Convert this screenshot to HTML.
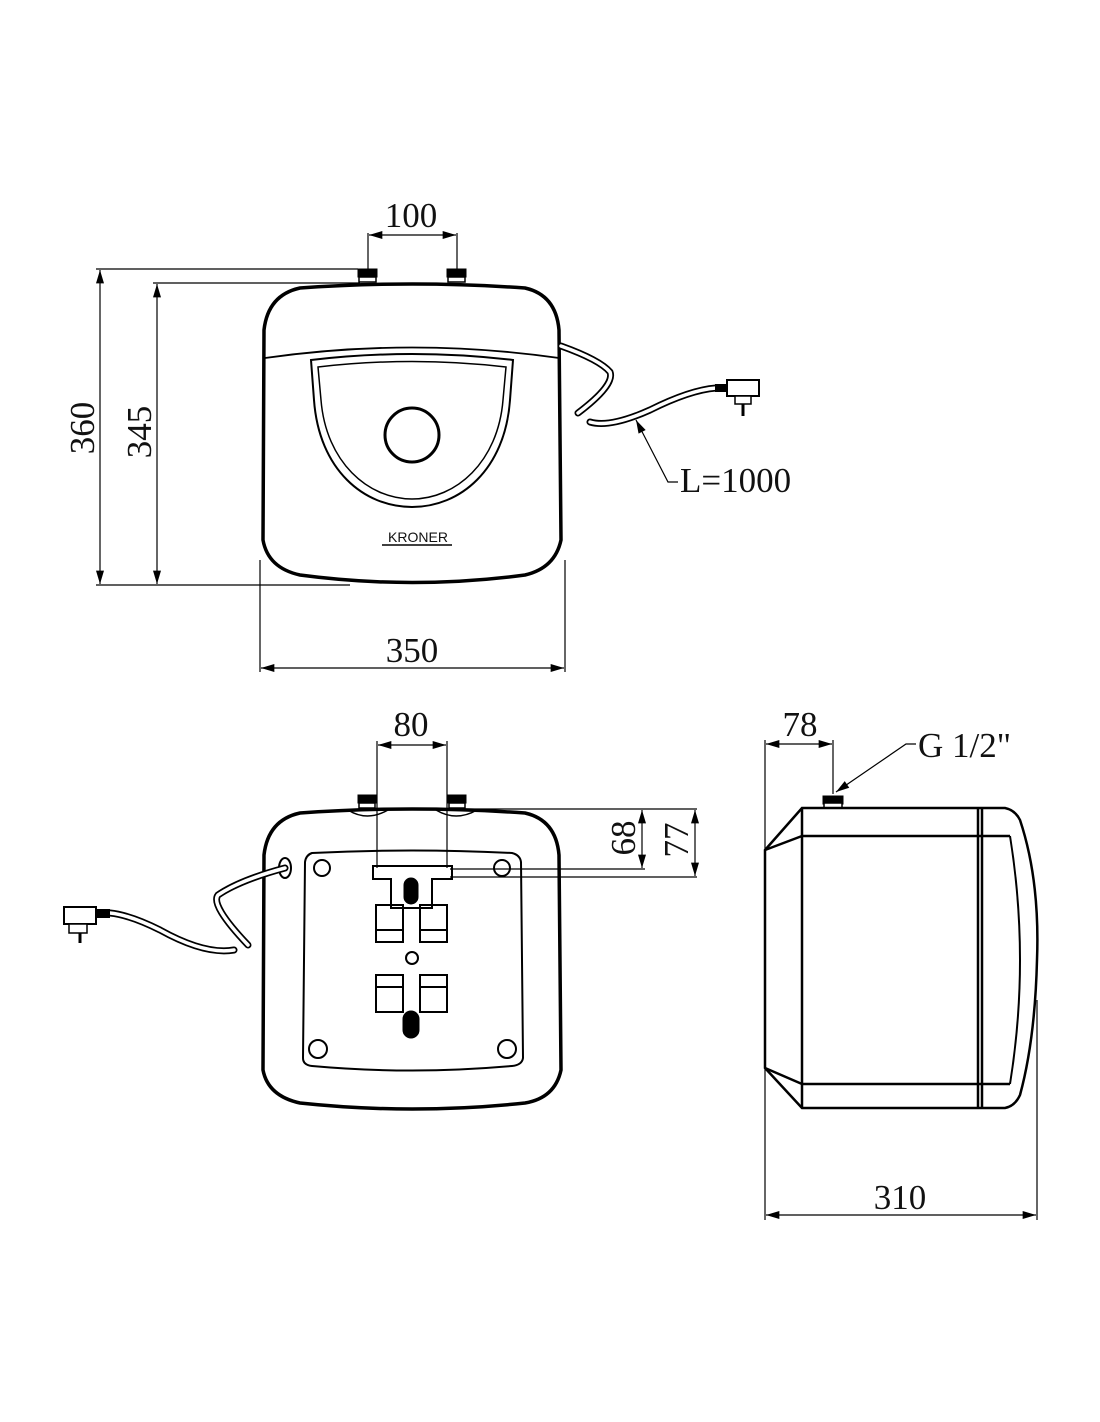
<!DOCTYPE html>
<html><head><meta charset="utf-8"><style>
html,body{margin:0;padding:0;background:#fff;}
svg{display:block;}
text{font-family:"Liberation Serif",serif;fill:#111;}
</style></head><body>
<svg width="1100" height="1422" viewBox="0 0 1100 1422" xmlns="http://www.w3.org/2000/svg">
<defs>
<marker id="a" viewBox="0 0 10 6" refX="10" refY="3" markerWidth="16" markerHeight="8" markerUnits="userSpaceOnUse" orient="auto-start-reverse"><path d="M0,0 L10,3 L0,6 Z" fill="#000"/></marker>
</defs>
<g stroke="#000" fill="none" stroke-width="1.2">
<line x1="368" y1="233" x2="368" y2="270"/>
<line x1="457" y1="233" x2="457" y2="270"/>
<line x1="369" y1="235" x2="456" y2="235" marker-start="url(#a)" marker-end="url(#a)"/>
<line x1="96" y1="269" x2="358" y2="269"/>
<line x1="153" y1="283" x2="360" y2="283"/>
<line x1="96" y1="585" x2="350" y2="585"/>
<line x1="100" y1="270" x2="100" y2="584" marker-start="url(#a)" marker-end="url(#a)"/>
<line x1="157" y1="284" x2="157" y2="584" marker-start="url(#a)" marker-end="url(#a)"/>
<line x1="260" y1="560" x2="260" y2="672"/>
<line x1="565" y1="560" x2="565" y2="672"/>
<line x1="261" y1="668" x2="564" y2="668" marker-start="url(#a)" marker-end="url(#a)"/>
<polyline points="678,482 668,482 636,420" marker-end="url(#a)"/>
</g>
<g stroke="#000" fill="none">
<rect x="358" y="269" width="19" height="8" fill="#000"/>
<rect x="359" y="277" width="17" height="5" stroke-width="1.5" fill="#fff"/>
<rect x="447" y="269" width="19" height="8" fill="#000"/>
<rect x="448" y="277" width="17" height="5" stroke-width="1.5" fill="#fff"/>
<path d="M300,288 Q412,280 525,288 Q556,295 559,330 L561,540 Q555,568 525,575 Q412,590 300,575 Q268,568 263,540 L264,330 Q268,295 300,288 Z" stroke-width="3.5" fill="#fff"/>
<path d="M265,358 Q412,337 559,358" stroke-width="1.8"/>
<path d="M311,360 Q412,348 513,360 L510,400 C505,470 460,507 412,507 C364,507 319,470 314,400 Z" stroke-width="2"/>
<path d="M318,367 Q412,356 506,367 L503,400 C498,462 456,499 412,499 C368,499 326,462 321,400 Z" stroke-width="1.5"/>
<circle cx="412" cy="435" r="27" stroke-width="3"/>
<line x1="382" y1="545" x2="452" y2="545" stroke-width="1.5"/>
</g>
<text x="418" y="542" font-size="14" text-anchor="middle" style="font-family:'Liberation Sans',sans-serif">KRONER</text>
<g fill="none" stroke-linecap="round">
<path d="M561,346 Q600,360 610,372 Q615,385 578,413" stroke="#000" stroke-width="7"/>
<path d="M561,346 Q600,360 610,372 Q615,385 578,413" stroke="#fff" stroke-width="3.5"/>
<path d="M590,422 Q610,428 650,410 Q690,390 716,388" stroke="#000" stroke-width="7"/>
<path d="M590,422 Q610,428 650,410 Q690,390 716,388" stroke="#fff" stroke-width="3.5"/>
</g>
<rect x="715" y="384" width="12" height="8" fill="#000"/>
<rect x="727" y="380" width="32" height="16" fill="#fff" stroke="#000" stroke-width="2"/>
<rect x="735" y="396" width="16" height="8" fill="#fff" stroke="#000" stroke-width="1.5"/>
<line x1="743" y1="404" x2="743" y2="416" stroke="#000" stroke-width="3"/>

<!-- BACK VIEW -->
<g stroke="#000" fill="none">
<rect x="358" y="795" width="18" height="8" fill="#000"/>
<rect x="359" y="803" width="16" height="5" fill="#fff" stroke-width="1.5"/>
<rect x="448" y="795" width="18" height="8" fill="#000"/>
<rect x="449" y="803" width="16" height="5" fill="#fff" stroke-width="1.5"/>
<path d="M300,813 Q412,805 525,813 Q556,820 559,855 L561,1070 Q555,1098 525,1103 Q412,1115 300,1103 Q268,1096 263,1070 L264,855 Q268,820 300,813 Z" stroke-width="3.5" fill="#fff"/>
<path d="M348,810 Q367,822 388,810" stroke-width="1.5"/>
<path d="M436,810 Q456,822 477,810" stroke-width="1.5"/>
<path d="M312,853 Q412,848 512,853 Q520,855 521,862 L523,1058 Q522,1065 512,1066 Q412,1075 312,1066 Q303,1065 303,1058 L305,862 Q306,855 312,853 Z" stroke-width="2"/>
<circle cx="322" cy="868" r="8" stroke-width="2"/>
<circle cx="502" cy="868" r="8" stroke-width="2"/>
<circle cx="318" cy="1049" r="9" stroke-width="2"/>
<circle cx="507" cy="1049" r="9" stroke-width="2"/>
<path d="M373,866 L452,866 L452,879 L432,879 L432,908 L391,908 L391,879 L373,879 Z" stroke-width="2" fill="#fff"/>
<rect x="404" y="878" width="14" height="26" rx="7" fill="#000"/>
<rect x="376" y="905" width="27" height="37" stroke-width="2"/>
<line x1="376" y1="930" x2="403" y2="930" stroke-width="2"/>
<rect x="420" y="905" width="27" height="37" stroke-width="2"/>
<line x1="420" y1="930" x2="447" y2="930" stroke-width="2"/>
<circle cx="412" cy="958" r="6" stroke-width="2"/>
<rect x="376" y="975" width="27" height="37" stroke-width="2"/>
<line x1="376" y1="987" x2="403" y2="987" stroke-width="2"/>
<rect x="420" y="975" width="27" height="37" stroke-width="2"/>
<line x1="420" y1="987" x2="447" y2="987" stroke-width="2"/>
<rect x="403" y="1011" width="16" height="27" rx="8" fill="#000"/>
<ellipse cx="285" cy="868" rx="6" ry="10" stroke-width="2" fill="#fff"/>
</g>
<g stroke="#000" fill="none" stroke-width="1.2">
<line x1="377" y1="741" x2="377" y2="868"/>
<line x1="447" y1="741" x2="447" y2="868"/>
<line x1="378" y1="745" x2="446" y2="745" marker-start="url(#a)" marker-end="url(#a)"/>
<line x1="455" y1="809" x2="697" y2="809"/>
<line x1="450" y1="869" x2="645" y2="869"/>
<line x1="450" y1="877" x2="697" y2="877"/>
<line x1="642" y1="810" x2="642" y2="868" marker-start="url(#a)" marker-end="url(#a)"/>
<line x1="695" y1="810" x2="695" y2="876" marker-start="url(#a)" marker-end="url(#a)"/>
</g>
<g fill="none" stroke-linecap="round">
<path d="M285,868 Q240,880 218,895 Q210,905 248,945" stroke="#000" stroke-width="7"/>
<path d="M285,868 Q240,880 218,895 Q210,905 248,945" stroke="#fff" stroke-width="3.5"/>
<path d="M234,950 Q205,955 160,930 Q130,915 110,913" stroke="#000" stroke-width="7"/>
<path d="M234,950 Q205,955 160,930 Q130,915 110,913" stroke="#fff" stroke-width="3.5"/>
</g>
<rect x="96" y="909" width="14" height="9" fill="#000"/>
<rect x="64" y="907" width="32" height="17" fill="#fff" stroke="#000" stroke-width="2"/>
<rect x="69" y="924" width="18" height="9" fill="#fff" stroke="#000" stroke-width="1.5"/>
<line x1="80" y1="933" x2="80" y2="943" stroke="#000" stroke-width="3"/>

<!-- SIDE VIEW -->
<g stroke="#000" fill="none" stroke-width="1.2">
<line x1="765" y1="740" x2="765" y2="1220"/>
<line x1="833" y1="740" x2="833" y2="794"/>
<line x1="766" y1="744" x2="832" y2="744" marker-start="url(#a)" marker-end="url(#a)"/>
<line x1="1037" y1="1000" x2="1037" y2="1220"/>
<line x1="766" y1="1215" x2="1036" y2="1215" marker-start="url(#a)" marker-end="url(#a)"/>
<polyline points="916,744 906,744 836,792" marker-end="url(#a)"/>
</g>
<g stroke="#000" fill="none" stroke-width="2.5">
<rect x="823" y="796" width="20" height="8" fill="#000" stroke-width="1"/>
<rect x="824" y="803" width="18" height="5" fill="#fff" stroke-width="1.5"/>
<path d="M802,808 L1005,808 Q1015,810 1020,820 Q1040,880 1037,960 Q1035,1040 1020,1095 Q1015,1106 1005,1108 L802,1108 L765,1068 L765,850 Z"/>
<line x1="802" y1="808" x2="802" y2="1108"/>
<line x1="978" y1="808" x2="978" y2="1108"/>
<line x1="982" y1="808" x2="982" y2="1108"/>
<line x1="802" y1="836" x2="1010" y2="836"/>
<line x1="802" y1="1084" x2="1010" y2="1084"/>
<line x1="765" y1="850" x2="802" y2="836"/>
<line x1="765" y1="1068" x2="802" y2="1084"/>
<path d="M1010,836 Q1030,960 1010,1084" stroke-width="2"/>
</g>

<g font-size="35">
<text x="411" y="227" text-anchor="middle">100</text>
<text x="412" y="662" text-anchor="middle">350</text>
<text x="680" y="492">L=1000</text>
<text x="411" y="736" text-anchor="middle">80</text>
<text x="800" y="736" text-anchor="middle">78</text>
<text x="918" y="757">G 1/2"</text>
<text x="900" y="1209" text-anchor="middle">310</text>
<text transform="translate(94,428) rotate(-90)" text-anchor="middle">360</text>
<text transform="translate(151,432) rotate(-90)" text-anchor="middle">345</text>
<text transform="translate(635,838) rotate(-90)" text-anchor="middle">68</text>
<text transform="translate(688,840) rotate(-90)" text-anchor="middle">77</text>
</g>
</svg>
</body></html>
